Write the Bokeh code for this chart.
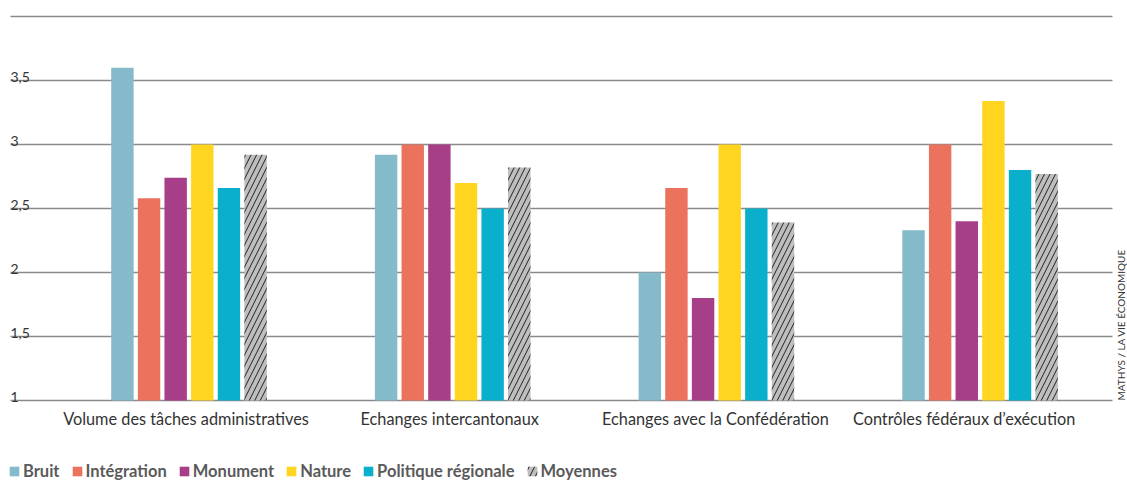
import numpy as np
from bokeh.plotting import figure
from bokeh.models import ColumnDataSource, Legend, LegendItem, Label
from bokeh.core.properties import value
from bokeh.embed import file_html
from bokeh.resources import INLINE

categories = ["Volume des tâches administratives", "Echanges intercantonaux",
              "Echanges avec la Confédération", "Contrôles fédéraux d’exécution"]
series = ["Bruit", "Intégration", "Monument", "Nature", "Politique régionale", "Moyennes"]
bruit = [3.60, 2.92, 2.00, 2.33]
integration = [2.58, 3.00, 2.66, 3.00]
monument = [2.74, 3.00, 1.80, 2.40]
nature = [3.00, 2.70, 3.00, 3.34]
politique = [2.66, 2.50, 2.50, 2.80]
moyennes = [2.92, 2.82, 2.39, 2.77]
y_ticks = [1, 1.5, 2, 2.5, 3, 3.5, 4]
y_tick_labels = ["1", "1,5", "2", "2,5", "3", "3,5", ""]
credit = "MATHYS / LA VIE ÉCONOMIQUE"

values_list = [bruit, integration, monument, nature, politique, moyennes]
colors = ["#85BACA", "#EB735E", "#A63F88", "#FFD520", "#0AB0CB", "#BEBEBE"]
label_dx = [-3, -3, -1, -16]  # pixel nudges of the category labels, as in the reference

FONT = "Lato"
W, H = 1127, 481
# whole canvas is the plot frame; ranges chosen so that 1 unit of y = 128 px, 1 group = 263.7 px
x_start, x_end = -0.7148, -0.7148 + W / 263.7
y_start, y_end = 1 - 81 / 128, 1 + 400 / 128
grid_left, grid_right = -0.677, 3.502

p = figure(width=W, height=H, x_range=(x_start, x_end), y_range=(y_start, y_end),
           output_backend="svg", toolbar_location=None,
           min_border=0, min_border_left=0, min_border_right=0,
           min_border_top=0, min_border_bottom=0)
p.outline_line_color = None
p.axis.visible = False
p.grid.visible = False
p.background_fill_color = "white"
p.border_fill_color = "white"

# horizontal grid lines (limited extent like the reference)
gsrc = ColumnDataSource(dict(x0=[grid_left] * len(y_ticks), x1=[grid_right] * len(y_ticks),
                             y=y_ticks))
p.segment(x0="x0", y0="y", x1="x1", y1="y", source=gsrc, line_color="#8a8a8a", line_width=1.4)

step = 0.101
bar_w = 0.085
base = np.arange(len(categories))
items = []
for k, (name, vals, col) in enumerate(zip(series, values_list, colors)):
    xs = base + (k - (len(series) - 1) / 2) * step
    src = ColumnDataSource(dict(x=xs, top=vals))
    kw = dict(x="x", top="top", bottom=1, width=bar_w, source=src,
              fill_color=col, line_color=None)
    if name == "Moyennes":
        kw.update(hatch_pattern="/", hatch_color="#222222", hatch_scale=11, hatch_weight=1.0)
    r = p.vbar(**kw)
    items.append(LegendItem(label=name, renderers=[r]))

# y tick labels above the grid lines
lab_src = ColumnDataSource(dict(x=[grid_left] * len(y_ticks), y=y_ticks, t=y_tick_labels))
p.text(x="x", y="y", text="t", source=lab_src, text_font=value(FONT),
       text_font_size="14px", text_color="#333333", text_baseline="alphabetic",
       text_align="left", y_offset=-4)

# category labels
cat_src = ColumnDataSource(dict(x=base, y=[1] * len(categories), t=categories, dx=label_dx))
p.text(x="x", y="y", text="t", source=cat_src, text_font=value(FONT),
       text_font_size="16.3px", text_color="#333333", text_baseline="top",
       text_align="center", y_offset=8, x_offset="dx")

legend = Legend(items=items, orientation="horizontal", location=(8, 0),
                padding=0, margin=0, spacing=11, label_standoff=3,
                glyph_width=12, glyph_height=12, label_height=17,
                label_text_font=FONT, label_text_font_style="bold",
                label_text_font_size="16.5px", label_text_color="#5a5a5a",
                background_fill_alpha=0, border_line_color=None)
p.add_layout(legend, "center")

p.add_layout(Label(x=grid_right, y=1, x_offset=9, y_offset=0, angle=np.pi / 2,
                   text=credit, text_font=FONT, text_font_size="10px",
                   text_color="#333333", text_align="left", text_baseline="alphabetic"))

open("out.html", "w").write(file_html(p, INLINE))
